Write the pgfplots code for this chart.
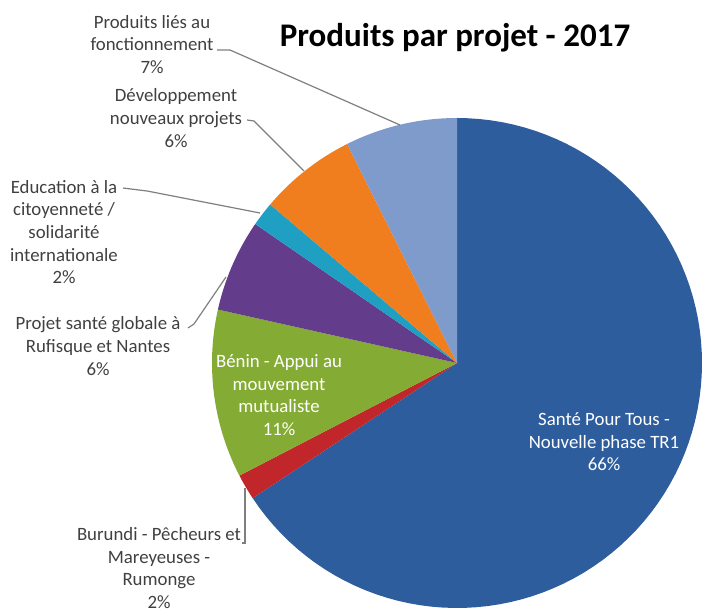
\documentclass[border=0pt]{standalone}
\usepackage{pgfplots}
\usepackage{pgfplotstable}
\pgfplotsset{compat=1.18}
\usepackage{fontspec}
\setmainfont{Carlito}

\definecolor{cBlue}{HTML}{2E5D9E}
\definecolor{cRed}{HTML}{C0262A}
\definecolor{cGreen}{HTML}{84AC34}
\definecolor{cPurple}{HTML}{643C8C}
\definecolor{cCyan}{HTML}{1FA0C3}
\definecolor{cOrange}{HTML}{F07D1E}
\definecolor{cLight}{HTML}{7E9BCB}
\definecolor{labtext}{HTML}{404040}
\definecolor{leader}{HTML}{7F7F7F}

% percentages, clockwise from the top
\pgfplotstableread{
name value
SantePourTous 65.7
Burundi 1.7
Benin 11.1
ProjetSante 6.1
Education 1.6
Developpement 6.4
Produits 7.4
}\piedata
\pgfplotstablecreatecol[create col/expr accum={\pgfmathaccuma+\thisrow{value}}{0}]{cum}\piedata

\newcommand\slice[2]{%
  \pgfplotstablegetelem{#1}{cum}\of\piedata
  \pgfmathsetmacro\eA{90-3.6*\pgfplotsretval}%
  \pgfplotstablegetelem{#1}{value}\of\piedata
  \pgfmathsetmacro\sA{\eA+3.6*\pgfplotsretval}%
  \edef\next{\noexpand\addplot[fill=#2, draw=none, domain=\eA:\sA, samples=90]
    ({457+245*cos(x)},{251+245*sin(x)}) -- (axis cs:457,251) -- cycle;}%
  \next
}

\tikzset{lab/.style={font=\fontsize{9.4}{11.3}\selectfont, align=center, text=labtext, inner sep=0pt}}

\begin{document}
\begin{tikzpicture}
\begin{axis}[hide axis, scale only axis, width=352pt, height=307pt,
  xmin=0, xmax=704, ymin=0, ymax=614, clip=false]
\slice{0}{cBlue}
\slice{1}{cRed}
\slice{2}{cGreen}
\slice{3}{cPurple}
\slice{4}{cCyan}
\slice{5}{cOrange}
\slice{6}{cLight}

% leader lines
\addplot[leader, line width=0.6pt] coordinates {(217,564) (230,564) (400,489)};
\addplot[leader, line width=0.6pt] coordinates {(247,494) (254,493) (304,443)};
\addplot[leader, line width=0.6pt] coordinates {(123,426) (147,423) (260,401)};
\addplot[leader, line width=0.6pt] coordinates {(188,286) (194,290) (226,337)};
\addplot[leader, line width=0.6pt] coordinates {(245,126) (245,71) (242,71)};

\node[lab] at (axis cs:152,569.5) {Produits liés au\\fonctionnement\\7\%};
\node[lab] at (axis cs:176,496) {Développement\\nouveaux projets\\6\%};
\node[lab] at (axis cs:64,382) {Education à la\\citoyenneté /\\solidarité\\internationale\\2\%};
\node[lab] at (axis cs:98,268) {Projet santé globale à\\Rufisque et Nantes\\6\%};
\node[lab] at (axis cs:159,46) {Burundi - Pêcheurs et\\Mareyeuses -\\Rumonge\\2\%};
\node[lab, text=white] at (axis cs:279,219) {Bénin - Appui au\\mouvement\\mutualiste\\11\%};
\node[lab, text=white] at (axis cs:604,172) {Santé Pour Tous -\\Nouvelle phase TR1\\66\%};
\node[anchor=base, text=black, inner sep=0pt, font=\bfseries\fontsize{16.5}{20}\selectfont] at (axis cs:455,567) {Produits par projet - 2017};
\end{axis}
\pgfresetboundingbox
\path (current axis.south west) rectangle (current axis.north east);
\end{tikzpicture}
\end{document}
